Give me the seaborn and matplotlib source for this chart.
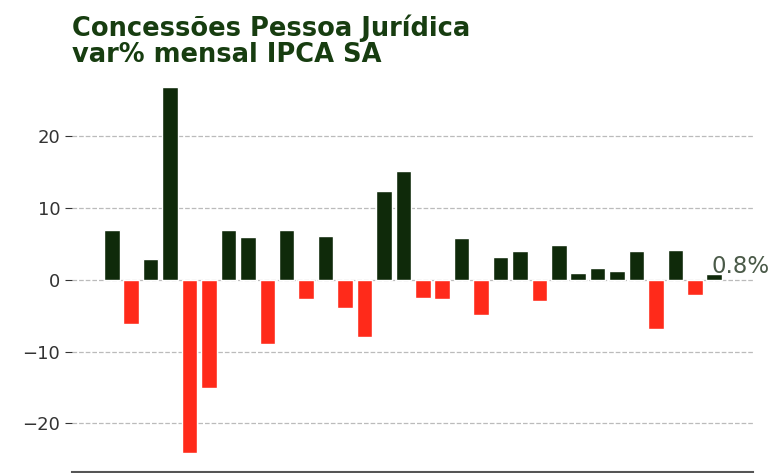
import matplotlib
matplotlib.use("Agg")
import matplotlib.pyplot as plt
import seaborn as sns
import numpy as np
import pandas as pd

# var% mensal (IPCA SA)
meses = list(range(32))
variacao = [7.0, -6.2, 2.9, 26.8, -24.1, -15.1, 6.9, 6.0, -9.0, 7.0, -2.7, 6.1,
            -3.9, -8.0, 12.3, 15.1, -2.5, -2.7, 5.8, -4.9, 3.2, 4.0, -2.9, 4.9,
            0.9, 1.6, 1.2, 4.0, -6.8, 4.2, -2.1, 0.8]

verde = "#0f2a0a"
vermelho = "#ff2a1a"

df = pd.DataFrame({"mes": meses, "var": variacao})
df["sinal"] = np.where(df["var"] >= 0, "pos", "neg")

sns.set_style("white")
fig = plt.figure(figsize=(7.74, 4.73), dpi=100)
ax = fig.add_axes([0.093, 0.003, 0.88, 0.82])

sns.barplot(
    data=df, x="mes", y="var", hue="sinal",
    palette={"pos": verde, "neg": vermelho}, saturation=1,
    dodge=False, width=0.8, legend=False, ax=ax,
    native_scale=True, zorder=3
)

ax.set_xlim(-2.05, 33.0)
ax.set_ylim(-26.7, 27.3)
ax.set_yticks([-20, -10, 0, 10, 20])
ax.set_yticklabels(["\u221220", "\u221210", "0", "10", "20"])
ax.yaxis.grid(True, linestyle="--", color="#bbbbbb", linewidth=0.9)
ax.set_axisbelow(True)
ax.tick_params(axis="y", labelsize=13, colors="#333333", length=5, left=True)
ax.tick_params(axis="x", labelbottom=False, bottom=False)
ax.set_xlabel("")
ax.set_ylabel("")

for s in ["top", "right", "left"]:
    ax.spines[s].set_visible(False)
ax.spines["bottom"].set_color("#555555")
ax.spines["bottom"].set_linewidth(1.5)

# ultimo valor
ultimo = variacao[-1]
ax.text(meses[-1] - 0.15, ultimo - 0.5, f"{ultimo:.1f}%", fontsize=16.5,
        color="#4a5a48", va="bottom", ha="left")

fig.text(0.093, 1 - 14 / 473, "Concessões Pessoa Jurídica\nvar% mensal IPCA SA",
         fontsize=18.5, fontweight="bold", color="#173d10",
         ha="left", va="top", linespacing=1.02)

fig.savefig("out.png", dpi=100)
